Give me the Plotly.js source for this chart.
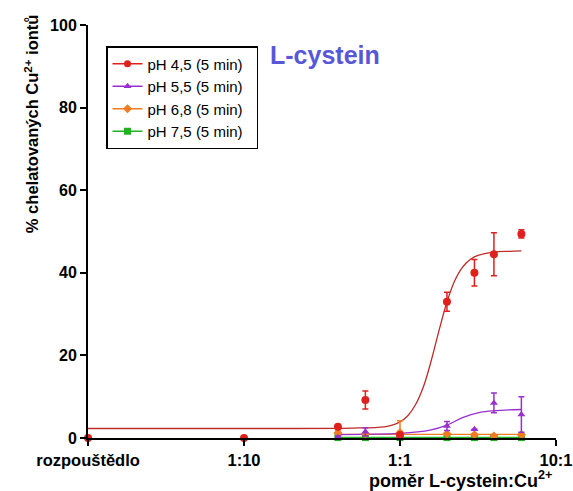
<!DOCTYPE html>
<html>
<head>
<meta charset="utf-8">
<script src="https://cdn.plot.ly/plotly-3.0.1.min.js"></script>
<style>html,body{margin:0;padding:0;background:#fff;}#chart{width:573px;height:491px;}</style>
</head>
<body>
<div id="chart"></div>
<script>
// x positions (ratio L-cystein:Cu2+); 0.01 = rozpouštědlo
var tickVals = [0.01, 0.1, 1, 10];
var tickLabels = ["rozpouštědlo", "1:10", "1:1", "10:1"];
var seriesNames = ["pH 4,5 (5 min)", "pH 5,5 (5 min)", "pH 6,8 (5 min)", "pH 7,5 (5 min)"];

// measured points
var xRed = [0.01, 0.1, 0.4, 0.6, 1, 2, 3, 4, 6];
var yRed = [0, 0, 2.7, 9.2, 0.7, 33.0, 40.0, 44.5, 49.4];
var eRed = [0, 0, 0, 2.2, 0, 2.3, 3.2, 5.2, 1.0];

var xPts = [0.4, 0.6, 1, 2, 3, 4, 6];
var yPurple = [0.2, 1.5, 0.5, 2.9, 2.1, 8.5, 5.7];
var ePurple = [0.3, 1.0, 0, 1.1, 0, 2.4, 4.3];
var yOrange = [1.2, 1.0, 1.3, 1.0, 0.8, 0.5, 0.8];
var eOrange = [0.5, 0, 2.9, 0, 0, 0, 0.4];
var yGreen = [0.1, 0.1, 0.1, 0.1, 0.1, 0.1, 0.1];
var eGreen = [0, 0, 0, 0, 0, 0, 0];

// fitted curves
var xFitRed = [0.01, 0.1, 0.5, 0.794, 0.891, 1, 1.122, 1.259, 1.413, 1.585, 1.778, 1.995, 2.239, 2.512, 2.818, 3.162, 3.981, 5.012, 6];
var yFitRed = [2.3, 2.3, 2.4, 2.7, 3.1, 3.9, 5.4, 8.1, 12.4, 18.7, 26.0, 32.8, 38.0, 41.3, 43.2, 44.2, 45.0, 45.2, 45.3];
var xFitPurple = [0.4, 0.6, 1, 1.56, 2, 2.54, 3.26, 4, 6];
var yFitPurple = [0.8, 0.9, 1.1, 1.9, 3.1, 5.0, 6.2, 6.6, 6.9];
var xFitOrange = [0.4, 6];
var yFitOrange = [0.9, 0.9];
var xFitGreen = [0.4, 6];
var yFitGreen = [0.15, 0.15];

var cRed = "#e0201b", cRedLine = "#bd2c28";
var cPurple = "#9a2fd0";
var cOrange = "#f07d22";
var cGreen = "#22b025";

function fit(x, y, col) {
  return {x: x, y: y, mode: "lines", line: {color: col, width: 1.3, shape: "spline"}, showlegend: false, hoverinfo: "skip"};
}
function pts(x, y, e, col, sym, sz) {
  return {x: x, y: y, mode: "markers", marker: {color: col, size: sz, symbol: sym},
    error_y: {type: "data", array: e, color: col, thickness: 1.5, width: 3},
    cliponaxis: false, showlegend: false};
}
function leg(name, col, sym) {
  return {x: [null], y: [null], name: name + "\u00a0\u00a0", mode: "lines+markers",
    line: {color: col, width: 1.5}, marker: {color: col, size: 7, symbol: sym}};
}

var data = [
  fit(xFitGreen, yFitGreen, cGreen),
  fit(xFitOrange, yFitOrange, cOrange),
  fit(xFitPurple, yFitPurple, cPurple),
  fit(xFitRed, yFitRed, cRedLine),
  pts(xPts, yGreen, eGreen, cGreen, "square", 7),
  pts(xPts, yOrange, eOrange, cOrange, "diamond", 7),
  pts(xPts, yPurple, ePurple, cPurple, "triangle-up", 7),
  pts(xRed, yRed, eRed, cRed, "circle", 8),
  leg(seriesNames[0], cRed, "circle"),
  leg(seriesNames[1], cPurple, "triangle-up"),
  leg(seriesNames[2], cOrange, "diamond"),
  leg(seriesNames[3], cGreen, "square")
];

var font = "Liberation Sans, Arial, sans-serif";
var layout = {
  width: 573, height: 491,
  margin: {l: 88, r: 17, t: 25, b: 53},
  paper_bgcolor: "#fff", plot_bgcolor: "#fff",
  font: {family: font, color: "#000"},
  xaxis: {
    type: "log", range: [-2, 1],
    tickvals: tickVals, ticktext: tickLabels,
    tickfont: {family: font, size: 16.5, color: "#000", weight: "bold"},
    ticks: "outside", ticklen: 6, tickwidth: 2, tickcolor: "#000",
    showline: true, linewidth: 2, linecolor: "#000",
    showgrid: false, zeroline: false
  },
  yaxis: {
    range: [0, 100], tickvals: [0, 20, 40, 60, 80, 100],
    tickfont: {family: font, size: 16, color: "#000", weight: "bold"},
    ticks: "outside", ticklen: 6, tickwidth: 2, tickcolor: "#000",
    showline: true, linewidth: 2, linecolor: "#000",
    showgrid: false, zeroline: false
  },
  showlegend: true,
  legend: {
    x: 0.0385, y: 0.949, xanchor: "left", yanchor: "top",
    bordercolor: "#000", borderwidth: 1.5, bgcolor: "#fff",
    font: {family: font, size: 15, color: "#000"},
    traceorder: "normal"
  },
  annotations: [
    {text: "L-cystein", xref: "paper", yref: "paper", x: 0.506, y: 0.928, xanchor: "center", yanchor: "middle",
     showarrow: false, font: {family: font, size: 25, color: "#5757d8", weight: "bold"}},
    {text: "poměr L-cystein:Cu<sup>2+</sup>", xref: "paper", yref: "paper", x: 0.795, y: 0, yshift: -41,
     xanchor: "center", yanchor: "middle", showarrow: false, font: {family: font, size: 18, color: "#000", weight: "bold"}},
    {text: "% chelatovaných Cu<sup>2+</sup> iontů", xref: "paper", yref: "paper", x: -0.12, y: 0.762,
     xanchor: "center", yanchor: "middle", textangle: -90, showarrow: false,
     font: {family: font, size: 16.5, color: "#000", weight: "bold"}}
  ]
};

Plotly.newPlot("chart", data, layout, {displayModeBar: false, staticPlot: true});
</script>
</body>
</html>
